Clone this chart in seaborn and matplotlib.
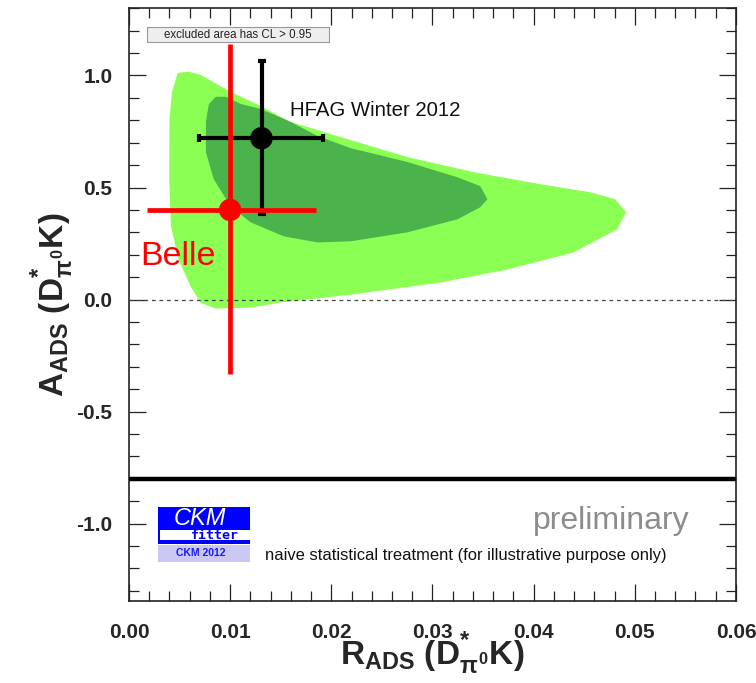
import numpy as np
import pandas as pd
import matplotlib
matplotlib.use("Agg")
import matplotlib.pyplot as plt
from matplotlib.patches import Rectangle
from matplotlib.ticker import MultipleLocator
import seaborn as sns

# ---------------- data ----------------
# 95% CL region (light green) boundary, (R_ADS, A_ADS)
outer_r = [0.00400, 0.00425, 0.00482, 0.0059, 0.00709, 0.01005, 0.01301, 0.01597,
           0.02190, 0.02752, 0.03404, 0.04065, 0.04559, 0.04806, 0.04914, 0.04825,
           0.04391, 0.03739, 0.03078, 0.02190, 0.0150, 0.01202, 0.00857, 0.0071,
           0.0061, 0.00490, 0.00415, 0.00398]
outer_a = [0.806, 0.927, 1.012, 1.017, 1.003, 0.927, 0.864, 0.793,
           0.712, 0.636, 0.569, 0.515, 0.479, 0.448, 0.390, 0.313,
           0.210, 0.134, 0.076, 0.022, -0.013, -0.036, -0.040, -0.015,
           0.058, 0.179, 0.327, 0.537]
# 68% CL region (dark green) boundary
inner_r = [0.0076, 0.0079, 0.0086, 0.0096, 0.01104, 0.01301, 0.01597, 0.01864,
           0.02190, 0.02752, 0.03246, 0.03473, 0.03543, 0.03473, 0.03246, 0.02752,
           0.02190, 0.01864, 0.01530, 0.01202, 0.01005, 0.00838, 0.0076]
inner_a = [0.793, 0.873, 0.905, 0.905, 0.873, 0.851, 0.793, 0.730,
           0.676, 0.614, 0.546, 0.506, 0.448, 0.412, 0.358, 0.300,
           0.260, 0.255, 0.282, 0.345, 0.416, 0.537, 0.658]

# measurements
exp_names = ["HFAG Winter 2012", "Belle"]
exp_r = [0.0131, 0.0100]
exp_r_lo = [0.0069, 0.0018]
exp_r_hi = [0.0192, 0.0185]
exp_a = [0.72, 0.40]
exp_a_lo = [0.38, -0.33]
exp_a_hi = [1.066, 1.14]
exp_colors = ["#000000", "#ff0000"]

x_ticks = [0.00, 0.01, 0.02, 0.03, 0.04, 0.05, 0.06]
y_ticks = [-1.0, -0.5, 0.0, 0.5, 1.0]
separator_a = -0.8

# ---------------- style ----------------
sns.set_style("ticks")
plt.rcParams["font.family"] = ["Liberation Sans", "DejaVu Sans"]
plt.rcParams["mathtext.fontset"] = "custom"
plt.rcParams["mathtext.rm"] = "Liberation Sans:bold"
plt.rcParams["mathtext.bf"] = "Liberation Sans:bold"
plt.rcParams["mathtext.it"] = "Liberation Sans:bold"
plt.rcParams["mathtext.sf"] = "Liberation Sans:bold"

fig = plt.figure(figsize=(7.56, 6.83), dpi=100)
ax = fig.add_axes([0.1706, 0.1201, 0.8029, 0.8678])

ax.fill(outer_r, outer_a, color="#8cff55", lw=0, zorder=1)
ax.fill(inner_r, inner_a, color="#4cb34c", lw=0, zorder=2)
ax.axhline(0.0, color="#444444", lw=0.9, ls=(0, (3, 3)), zorder=3)
ax.axhline(separator_a, color="black", lw=3.2, zorder=3)

df = pd.DataFrame({"name": exp_names, "R": exp_r, "A": exp_a})
for i in range(len(exp_names)):
    col = exp_colors[i]
    cap = 3 if i == 0 else 0
    lw = 3.0 if i == 0 else 3.4
    ax.errorbar([exp_r[i]], [exp_a[i]],
                xerr=[[exp_r[i] - exp_r_lo[i]], [exp_r_hi[i] - exp_r[i]]],
                yerr=[[exp_a[i] - exp_a_lo[i]], [exp_a_hi[i] - exp_a[i]]],
                fmt="none", ecolor=col, elinewidth=lw, capsize=cap, capthick=lw,
                zorder=4 + i)
sns.scatterplot(data=df, x="R", y="A", hue="name", palette=exp_colors,
                s=260, linewidth=0, legend=False, ax=ax, zorder=6)

ax.set_xlim(0.0, 0.06)
ax.set_ylim(-1.345, 1.3)
ax.set_xticks(x_ticks)
ax.set_xticklabels([f"{v:.2f}" for v in x_ticks])
ax.set_yticks(y_ticks)
ax.set_yticklabels([f"{v:.1f}" for v in y_ticks])
ax.xaxis.set_minor_locator(MultipleLocator(0.002))
ax.yaxis.set_minor_locator(MultipleLocator(0.1))
ax.tick_params(which="both", direction="in", top=True, right=True, width=0.9, color="#222222")
ax.tick_params(which="major", length=12)
ax.tick_params(which="minor", length=7)
ax.tick_params(axis="x", which="major", pad=16, labelsize=15)
ax.tick_params(axis="y", which="major", pad=12, labelsize=15)
for lab in ax.get_xticklabels() + ax.get_yticklabels():
    lab.set_fontweight("bold")
for sp in ax.spines.values():
    sp.set_linewidth(1.2)
    sp.set_color("#222222")

ax.set_xlabel(r"R$_{\mathrm{ADS}}$ (D$^{*}_{\pi^{0}}$K)", fontsize=24, fontweight="bold")
ax.xaxis.set_label_coords(0.5, -0.050)
ax.set_ylabel(r"A$_{\mathrm{ADS}}$ (D$^{*}_{\pi^{0}}$K)", fontsize=24, fontweight="bold", labelpad=0)

# annotations
ax.add_patch(Rectangle((0.0297, 0.943), 0.300, 0.0253, transform=ax.transAxes,
                       facecolor="#eeeeee", edgecolor="#999999", lw=0.8, zorder=7))
ax.text(0.1797, 0.9557, "excluded area has CL > 0.95", transform=ax.transAxes,
        fontsize=8.3, ha="center", va="center", color="#222222", zorder=8)
ax.text(0.265, 0.8283, "HFAG Winter 2012", transform=ax.transAxes,
        fontsize=14.7, ha="left", va="center", color="#111111", zorder=8)
ax.text(0.0181, 0.5804, "Belle", transform=ax.transAxes,
        fontsize=24.5, ha="left", va="center", color="#ff0000", zorder=8)
ax.text(0.924, 0.135, "preliminary", transform=ax.transAxes,
        fontsize=23, ha="right", va="center", color="#8c8c8c", zorder=8)
ax.text(0.224, 0.0759, "naive statistical treatment (for illustrative purpose only)",
        transform=ax.transAxes, fontsize=11.9, ha="left", va="center", color="#111111", zorder=8)

# CKMfitter logo
ax.add_patch(Rectangle((0.0478, 0.0962), 0.1516, 0.0624, transform=ax.transAxes,
                       facecolor="#0000ff", lw=0, zorder=7))
ax.add_patch(Rectangle((0.0511, 0.1021), 0.1483, 0.0177, transform=ax.transAxes,
                       facecolor="white", lw=0, zorder=7))
ax.add_patch(Rectangle((0.0478, 0.0658), 0.1516, 0.0287, transform=ax.transAxes,
                       facecolor="#c8c8f2", lw=0, zorder=7))
ax.text(0.117, 0.1395, "CKM", transform=ax.transAxes, fontsize=17, style="italic",
        ha="center", va="center", color="white", zorder=8)
ax.text(0.142, 0.1110, "fitter", transform=ax.transAxes, fontsize=9.5, fontweight="bold",
        family="DejaVu Sans Mono", ha="center", va="center", color="#0000ff", zorder=8)
ax.text(0.1186, 0.0810, "CKM 2012", transform=ax.transAxes, fontsize=7.5, fontweight="bold",
        ha="center", va="center", color="#1a1aff", zorder=8)

fig.savefig("out.png", dpi=100)
